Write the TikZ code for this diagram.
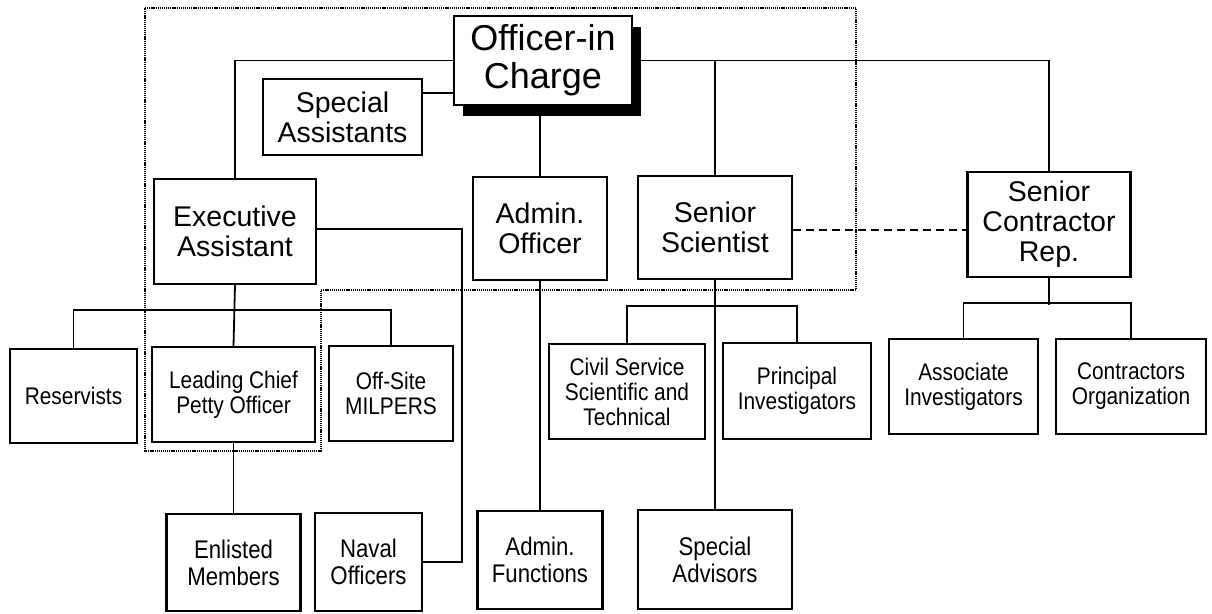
\documentclass[tikz,border=0pt]{standalone}
\usepackage{fontspec}
\setmainfont{Liberation Sans}
\newfontfamily\narrowfont[FakeStretch=0.87]{Liberation Sans}
\usetikzlibrary{shadows}
\begin{document}
\begin{tikzpicture}[x=1pt, y=-1pt,
    box/.style={draw, fill=white, line width=2.2pt, align=center, inner sep=0pt},
    toplevel/.style={font=\fontsize{36}{38}\selectfont},
    midlevel/.style={font=\fontsize{28.5}{30}\selectfont},
    lowlevel/.style={font=\narrowfont\fontsize{24}{25}\selectfont},
    baselevel/.style={font=\narrowfont\fontsize{25.5}{27}\selectfont},
    link/.style={line width=1.8pt}]
  \useasboundingbox (0,0) rectangle (1212,613);
  % dotted outline
  \draw[line width=1.3pt, dash pattern=on 1.2pt off 0.9pt]
    (145,8) -- (856,8) -- (856,290) -- (321,290) -- (321,451) -- (145,451) -- cycle;
  % boxes
  \node[box, toplevel, minimum width=178pt, minimum height=89pt,
    drop shadow={shadow xshift=9pt, shadow yshift=-11pt, fill=black, opacity=1}]
    (oic) at (543,60.5) {Officer-in\\Charge};
  \node[box, midlevel, minimum width=159pt, minimum height=76pt] (spa) at (342.5,117) {Special\\Assistants};
  \node[box, midlevel, minimum width=162pt, minimum height=105pt] (exa) at (235,231.5) {Executive\\Assistant};
  \node[box, midlevel, minimum width=134pt, minimum height=103pt] (ado) at (540,228.5) {Admin.\\Officer};
  \node[box, midlevel, minimum width=154pt, minimum height=103pt] (ssc) at (715,227.5) {Senior\\Scientist};
  \node[box, midlevel, minimum width=163pt, minimum height=105pt] (scr) at (1049,224.5) {Senior\\Contractor\\Rep.};
  \node[box, lowlevel, minimum width=127pt, minimum height=94pt] (res) at (73.5,396) {Reservists};
  \node[box, lowlevel, minimum width=163pt, minimum height=95pt] (lcp) at (233.5,394.5) {Leading Chief\\Petty Officer};
  \node[box, lowlevel, minimum width=124pt, minimum height=95pt] (ofs) at (391,393.5) {Off-Site\\MILPERS};
  \node[box, lowlevel, minimum width=156pt, minimum height=95pt] (csv) at (627,391.5) {Civil Service\\Scientific and\\Technical};
  \node[box, lowlevel, minimum width=148pt, minimum height=96pt] (pin) at (797,391) {Principal\\Investigators};
  \node[box, lowlevel, minimum width=149pt, minimum height=95pt] (asi) at (963.5,386.5) {Associate\\Investigators};
  \node[box, lowlevel, minimum width=150pt, minimum height=95pt] (con) at (1131,386.5) {Contractors\\Organization};
  \node[box, baselevel, minimum width=134pt, minimum height=97pt] (ens) at (233.5,562.5) {Enlisted\\Members};
  \node[box, baselevel, minimum width=107pt, minimum height=98pt] (nav) at (368.5,562) {Naval\\Officers};
  \node[box, baselevel, minimum width=125pt, minimum height=98pt] (adf) at (540,560) {Admin.\\Functions};
  \node[box, baselevel, minimum width=154pt, minimum height=99pt] (spv) at (715,559.5) {Special\\Advisors};
  % lines
  \begin{scope}[link]
    \draw (exa.north) |- (oic.west);
    \draw ([yshift=24pt]spa.east) -- ([yshift=24pt]spa.east -| oic.west);
    \draw (oic.east) -| (scr.north);
    \draw (ssc.north) -- (ssc.north |- oic.east);
    \draw (ado.north) -- (ado.north |- oic.south);
    \draw (ado.south) -- (adf.north);
    \draw ([yshift=2.5pt]exa.east) -- ++(145,0) |- (nav.east);
    \draw (exa.south) -- (lcp.north);
    \draw (res.north) -- ++(0,-38) -| (ofs.north);
    \draw (lcp.south) -- (ens.north);
    \draw (ssc.south) -- (spv.north);
    \draw (csv.north) -- ++(0,-37) -| (pin.north);
    \draw (scr.south) -- ++(0,27);
    \draw (asi.north) -- ++(0,-35) -| (con.north);
    \draw[dash pattern=on 8pt off 5pt] ([yshift=-2.5pt]ssc.east) -- ([yshift=-2.5pt]ssc.east -| scr.west);
  \end{scope}
\end{tikzpicture}
\end{document}
